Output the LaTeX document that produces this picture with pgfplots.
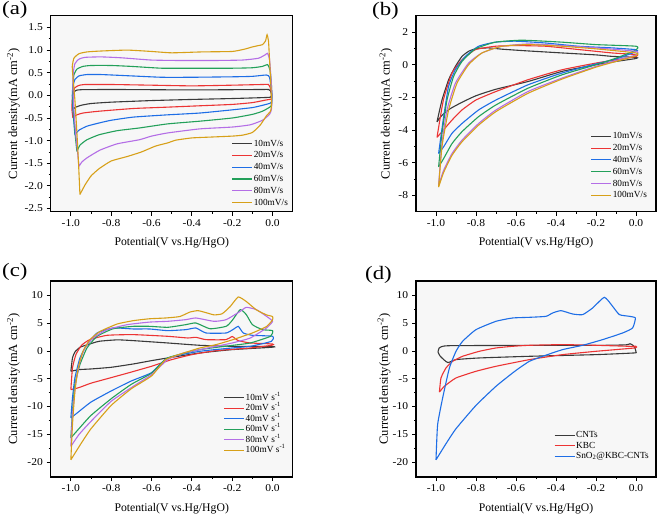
\documentclass[border=0pt]{standalone}
\usepackage{fontspec}
\setmainfont{Liberation Serif}
\usepackage{pgfplots}
\pgfplotsset{compat=1.18}
\definecolor{cA}{RGB}{58,58,58}
\definecolor{cB}{RGB}{236,52,52}
\definecolor{cC}{RGB}{30,110,230}
\definecolor{cD}{RGB}{35,160,90}
\definecolor{cE}{RGB}{180,110,230}
\definecolor{cF}{RGB}{215,160,25}
\newcommand\xlblfont{\fontsize{11.7}{13}\selectfont}
\newcommand\lblfont{\fontsize{12.5}{14}\selectfont}
\pgfplotsset{cv/.style={
  scale only axis, width=242pt, height=196pt,
  axis line style={line width=1.1pt},
  tick align=outside, xtick pos=left, ytick pos=left,
  major tick length=4pt, minor tick length=2pt,
  every tick/.style={line width=0.8pt, black},
  minor x tick num=1, minor y tick num=1,
  xmin=-1.1, xmax=0.1, xtick={-1,-0.8,-0.6,-0.4,-0.2,0},
  xticklabel style={/pgf/number format/.cd, fixed, fixed zerofill, precision=1},
  /pgf/number format/assume math mode=true,
  ticklabel style={font=\fontsize{10.5}{12}\selectfont, xscale=1.1},
  axis background/.style={fill=black!3},
  xlabel={Potential(V vs.Hg/HgO)},
  ylabel={Current density(mA cm\textsuperscript{-2})},
  every axis x label/.style={at={(axis description cs:0.5,-0.16)}, anchor=center, font=\xlblfont},
  every axis plot/.append style={line width=1.1pt, smooth, tension=0.3},
  legend style={draw=none, fill=none, font=\fontsize{9.3}{10}\selectfont, inner sep=0pt,
     nodes={inner sep=1pt, text height=6.5pt, text depth=1.5pt}, row sep=1.8pt},
  legend cell align=left,
  legend image code/.code={\draw[#1, line width=1.1pt] (0pt,0pt) -- (20pt,0pt);},
}}
\begin{document}
\begin{tikzpicture}
\useasboundingbox (0,0) rectangle (661pt,-516pt);
% ---------------- (a)
\begin{axis}[cv, at={(50.7pt,-15.7pt)}, anchor=north west,
  ymin=-2.57, ymax=1.76, ytick={-2.5,-2,-1.5,-1,-0.5,0,0.5,1,1.5},
  yticklabel style={/pgf/number format/.cd, fixed, fixed zerofill, precision=1},
  every axis y label/.style={at={(axis description cs:-0.154,0.5)}, rotate=90, anchor=center, font=\lblfont},
  legend style={at={(axis description cs:0.985,0.02)}, anchor=south east}]
\addplot[cA] coordinates {(-0.99,-0.32) (-0.992,-0.15) (-0.99,0.0) (-0.985,0.07) (-0.975,0.11) (-0.95,0.125) (-0.8,0.13) (-0.6,0.125) (-0.4,0.12) (-0.2,0.125) (-0.05,0.13) (-0.02,0.13) (-0.01,0.1) (-0.005,0.0) (-0.01,-0.04) (-0.05,-0.05) (-0.2,-0.07) (-0.4,-0.09) (-0.6,-0.115) (-0.8,-0.15) (-0.9,-0.18) (-0.95,-0.22) (-0.98,-0.27) (-0.99,-0.32)};
\addlegendentry{10mV/s}
\addplot[cB] coordinates {(-0.99,-0.5) (-0.995,-0.3) (-0.993,-0.1) (-0.99,0.05) (-0.98,0.17) (-0.96,0.22) (-0.93,0.24) (-0.8,0.24) (-0.6,0.225) (-0.4,0.21) (-0.2,0.225) (-0.05,0.24) (-0.02,0.24) (-0.01,0.15) (-0.003,0.0) (-0.005,-0.08) (-0.03,-0.1) (-0.1,-0.16) (-0.2,-0.2) (-0.36,-0.23) (-0.52,-0.26) (-0.69,-0.29) (-0.86,-0.35) (-0.94,-0.39) (-0.975,-0.44) (-0.99,-0.5)};
\addlegendentry{20mV/s}
\addplot[cC] coordinates {(-0.98,-0.87) (-0.985,-0.6) (-0.99,-0.3) (-0.993,0.0) (-0.99,0.2) (-0.98,0.35) (-0.96,0.43) (-0.92,0.46) (-0.85,0.46) (-0.7,0.43) (-0.55,0.4) (-0.4,0.4) (-0.2,0.41) (-0.1,0.42) (-0.03,0.45) (-0.015,0.4) (-0.005,0.1) (-0.003,-0.1) (-0.01,-0.17) (-0.05,-0.22) (-0.1,-0.27) (-0.2,-0.32) (-0.36,-0.39) (-0.52,-0.43) (-0.69,-0.48) (-0.8,-0.55) (-0.86,-0.61) (-0.92,-0.68) (-0.96,-0.77) (-0.98,-0.87)};
\addlegendentry{40mV/s}
\addplot[cD] coordinates {(-0.97,-1.24) (-0.978,-0.9) (-0.985,-0.5) (-0.99,-0.1) (-0.99,0.2) (-0.985,0.45) (-0.97,0.58) (-0.94,0.64) (-0.9,0.66) (-0.8,0.66) (-0.7,0.64) (-0.55,0.6) (-0.4,0.6) (-0.2,0.6) (-0.1,0.61) (-0.05,0.64) (-0.025,0.68) (-0.012,0.55) (-0.005,0.2) (-0.003,-0.1) (-0.008,-0.24) (-0.05,-0.35) (-0.1,-0.42) (-0.2,-0.5) (-0.36,-0.57) (-0.52,-0.63) (-0.66,-0.72) (-0.77,-0.78) (-0.86,-0.87) (-0.92,-0.98) (-0.955,-1.1) (-0.97,-1.24)};
\addlegendentry{60mV/s}
\addplot[cE] coordinates {(-0.96,-1.57) (-0.968,-1.2) (-0.977,-0.8) (-0.985,-0.3) (-0.99,0.2) (-0.988,0.5) (-0.98,0.7) (-0.96,0.8) (-0.93,0.84) (-0.85,0.85) (-0.75,0.83) (-0.6,0.78) (-0.45,0.77) (-0.3,0.77) (-0.15,0.78) (-0.07,0.82) (-0.035,0.9) (-0.025,0.93) (-0.015,0.8) (-0.008,0.4) (-0.003,0.0) (-0.005,-0.3) (-0.015,-0.42) (-0.05,-0.55) (-0.11,-0.65) (-0.2,-0.7) (-0.36,-0.74) (-0.52,-0.83) (-0.6,-0.9) (-0.66,-0.98) (-0.77,-1.07) (-0.856,-1.21) (-0.92,-1.38) (-0.945,-1.47) (-0.96,-1.57)};
\addlegendentry{80mV/s}
\addplot[cF] coordinates {(-0.955,-2.19) (-0.962,-1.5) (-0.97,-0.83) (-0.98,-0.1) (-0.99,0.42) (-0.993,0.64) (-0.985,0.82) (-0.96,0.92) (-0.92,0.96) (-0.85,0.98) (-0.72,1.0) (-0.6,0.97) (-0.5,0.94) (-0.35,0.96) (-0.2,0.97) (-0.14,1.02) (-0.1,1.07) (-0.07,1.1) (-0.05,1.12) (-0.035,1.2) (-0.027,1.34) (-0.02,1.2) (-0.015,0.8) (-0.008,0.2) (-0.005,-0.2) (-0.01,-0.35) (-0.03,-0.45) (-0.06,-0.65) (-0.1,-0.82) (-0.15,-0.88) (-0.2,-0.9) (-0.3,-0.92) (-0.4,-0.94) (-0.48,-0.99) (-0.52,-1.05) (-0.58,-1.12) (-0.65,-1.25) (-0.72,-1.35) (-0.8,-1.45) (-0.86,-1.62) (-0.9,-1.78) (-0.93,-1.98) (-0.955,-2.19)};
\addlegendentry{100mV/s}
\end{axis}
% ---------------- (b)
\begin{axis}[cv, at={(416pt,-15.7pt)}, anchor=north west, width=240pt,
  ymin=-9, ymax=3, ytick={-8,-6,-4,-2,0,2},
  every axis y label/.style={at={(axis description cs:-0.125,0.5)}, rotate=90, anchor=center, font=\lblfont},
  legend style={at={(axis description cs:0.967,0.057)}, anchor=south east}]
\addplot[cA] coordinates {(-0.995,-3.5) (-0.97,-2.16) (-0.937,-0.92) (-0.903,-0.1) (-0.87,0.51) (-0.837,0.82) (-0.803,0.97) (-0.74,1.03) (-0.67,0.95) (-0.55,0.85) (-0.37,0.72) (-0.2,0.6) (-0.12,0.51) (0,0.45) (0,0.38) (-0.1,0.2) (-0.2,0.0) (-0.37,-0.41) (-0.54,-1.03) (-0.7,-1.5) (-0.8,-1.9) (-0.87,-2.3) (-0.93,-2.7) (-0.97,-3.1) (-0.995,-3.5)};
\addlegendentry{10mV/s}
\addplot[cB] coordinates {(-0.995,-4.45) (-0.963,-2.16) (-0.92,-0.51) (-0.87,0.3) (-0.803,0.92) (-0.703,1.13) (-0.6,1.17) (-0.45,1.13) (-0.28,0.92) (-0.12,0.72) (0,0.62) (0,0.5) (-0.1,0.3) (-0.2,0.1) (-0.37,-0.31) (-0.54,-0.92) (-0.7,-1.64) (-0.8,-2.16) (-0.87,-2.77) (-0.92,-3.39) (-0.97,-4.1) (-0.995,-4.45)};
\addlegendentry{20mV/s}
\addplot[cC] coordinates {(-0.987,-5.44) (-0.962,-3.2) (-0.937,-1.33) (-0.903,-0.3) (-0.853,0.51) (-0.787,1.13) (-0.703,1.38) (-0.603,1.44) (-0.453,1.33) (-0.287,1.13) (-0.12,1.03) (0,0.92) (0,0.8) (-0.1,0.35) (-0.2,0.05) (-0.37,-0.51) (-0.54,-1.23) (-0.7,-2.16) (-0.787,-2.77) (-0.87,-3.6) (-0.92,-4.2) (-0.962,-5.03) (-0.987,-5.44)};
\addlegendentry{40mV/s}
\addplot[cD] coordinates {(-0.987,-6.26) (-0.97,-4.2) (-0.945,-2.16) (-0.912,-0.72) (-0.87,0.2) (-0.803,0.97) (-0.703,1.38) (-0.57,1.5) (-0.37,1.38) (-0.2,1.23) (0,1.13) (0,0.9) (-0.1,0.4) (-0.2,0.0) (-0.37,-0.62) (-0.54,-1.44) (-0.7,-2.46) (-0.787,-3.18) (-0.87,-4.1) (-0.92,-4.83) (-0.962,-5.75) (-0.987,-6.26)};
\addlegendentry{60mV/s}
\addplot[cE] coordinates {(-0.987,-7.4) (-0.97,-4.8) (-0.945,-2.77) (-0.903,-1.13) (-0.837,0.1) (-0.77,0.72) (-0.67,1.13) (-0.537,1.27) (-0.37,1.17) (-0.2,1.03) (0,0.82) (0,0.6) (-0.1,0.25) (-0.2,-0.1) (-0.37,-0.82) (-0.54,-1.64) (-0.7,-2.77) (-0.787,-3.6) (-0.87,-4.62) (-0.92,-5.44) (-0.962,-6.47) (-0.987,-7.4)};
\addlegendentry{80mV/s}
\addplot[cF] coordinates {(-0.987,-7.5) (-0.97,-5.0) (-0.937,-2.77) (-0.895,-1.13) (-0.837,0.0) (-0.77,0.72) (-0.67,1.13) (-0.537,1.23) (-0.37,1.13) (-0.2,0.97) (0,0.72) (0,0.55) (-0.1,0.2) (-0.2,-0.15) (-0.37,-0.88) (-0.54,-1.75) (-0.7,-2.87) (-0.787,-3.7) (-0.87,-4.72) (-0.92,-5.55) (-0.962,-6.6) (-0.987,-7.5)};
\addlegendentry{100mV/s}
\end{axis}
% ---------------- (c)
\begin{axis}[cv, at={(50.7pt,-281pt)}, anchor=north west,
  ymin=-22.7, ymax=12.6, ytick={-20,-15,-10,-5,0,5,10},
  every axis y label/.style={at={(axis description cs:-0.154,0.5)}, rotate=90, anchor=center, font=\lblfont},
  legend style={at={(axis description cs:0.975,0.11)}, anchor=south east, row sep=0.5pt}]
\addplot[cA] coordinates {(-1.0,-3.66) (-0.992,-1.26) (-0.98,-0.18) (-0.955,0.66) (-0.92,1.1) (-0.86,1.74) (-0.77,2.0) (-0.69,1.86) (-0.52,1.44) (-0.36,1.02) (-0.2,0.84) (0,0.8) (-0.005,0.66) (-0.2,0.24) (-0.36,-0.36) (-0.52,-1.26) (-0.6,-1.74) (-0.69,-2.34) (-0.8,-2.94) (-0.9,-3.24) (-0.96,-3.36) (-1.0,-3.66)};
\addlegendentry{10mV s\textsuperscript{-1}}
\addplot[cB] coordinates {(-1.0,-6.96) (-0.992,-3.06) (-0.975,-0.66) (-0.947,1.02) (-0.906,2.04) (-0.82,2.82) (-0.69,2.94) (-0.52,2.64) (-0.42,2.34) (-0.38,2.46) (-0.33,2.04) (-0.23,2.04) (-0.2,2.6) (-0.17,1.86) (-0.11,1.44) (0,1.26) (-0.005,1.02) (-0.11,0.54) (-0.28,0.06) (-0.4,-0.66) (-0.5,-1.56) (-0.575,-2.46) (-0.6,-2.76) (-0.7,-3.8) (-0.8,-4.8) (-0.9,-5.8) (-0.96,-6.6) (-1.0,-6.96)};
\addlegendentry{20mV s\textsuperscript{-1}}
\addplot[cC] coordinates {(-1.0,-12.06) (-0.992,-8.46) (-0.98,-4.86) (-0.955,-1.26) (-0.92,1.14) (-0.87,3.24) (-0.79,4.14) (-0.69,3.96) (-0.61,3.96) (-0.52,3.66) (-0.43,3.84) (-0.38,4.14) (-0.33,3.24) (-0.23,3.24) (-0.19,4.0) (-0.17,4.44) (-0.145,3.24) (-0.1,2.82) (0,2.64) (-0.005,1.74) (-0.11,0.84) (-0.2,0.54) (-0.36,-0.06) (-0.52,-1.26) (-0.6,-3.9) (-0.7,-5.4) (-0.8,-7.2) (-0.9,-9.2) (-0.97,-11.2) (-1.0,-12.06)};
\addlegendentry{40mV s\textsuperscript{-1}}
\addplot[cD] coordinates {(-1.0,-15.66) (-0.992,-10.86) (-0.98,-6.06) (-0.955,-2.46) (-0.92,0.54) (-0.87,2.64) (-0.79,4.0) (-0.69,4.44) (-0.61,4.44) (-0.52,4.26) (-0.43,4.74) (-0.38,5.04) (-0.31,4.0) (-0.23,4.44) (-0.2,5.5) (-0.16,7.44) (-0.13,6.54) (-0.1,4.74) (-0.05,3.84) (0,3.66) (-0.01,2.64) (-0.11,1.44) (-0.2,1.0) (-0.36,0.24) (-0.52,-1.26) (-0.6,-4.0) (-0.7,-6.0) (-0.8,-8.6) (-0.9,-11.6) (-0.96,-14.0) (-1.0,-15.66)};
\addlegendentry{60mV s\textsuperscript{-1}}
\addplot[cE] coordinates {(-1.0,-17.2) (-0.992,-11.5) (-0.977,-6.1) (-0.955,-1.9) (-0.93,0.54) (-0.89,2.34) (-0.82,3.84) (-0.72,4.74) (-0.61,5.2) (-0.52,5.34) (-0.43,5.64) (-0.38,5.94) (-0.29,5.34) (-0.23,5.64) (-0.16,7.14) (-0.13,7.86) (-0.08,7.44) (-0.03,6.24) (0,5.34) (-0.03,4.14) (-0.11,2.34) (-0.2,1.44) (-0.36,0.24) (-0.44,-0.36) (-0.52,-1.56) (-0.6,-4.26) (-0.69,-6.36) (-0.8,-9.06) (-0.9,-12.66) (-0.96,-15.06) (-1.0,-17.2)};
\addlegendentry{80mV s\textsuperscript{-1}}
\addplot[cF] coordinates {(-1.0,-19.6) (-0.992,-13.3) (-0.98,-7.3) (-0.964,-3.1) (-0.94,-0.06) (-0.906,2.0) (-0.856,3.5) (-0.77,4.86) (-0.69,5.46) (-0.61,5.8) (-0.53,5.94) (-0.46,6.2) (-0.41,7.0) (-0.37,7.26) (-0.33,6.9) (-0.29,6.5) (-0.25,6.7) (-0.21,8.0) (-0.17,9.72) (-0.13,8.9) (-0.08,7.4) (-0.03,6.5) (0,6.2) (0,5.6) (-0.03,4.4) (-0.1,3.24) (-0.2,2.0) (-0.28,1.14) (-0.36,0.54) (-0.44,-0.36) (-0.53,-1.56) (-0.6,-4.5) (-0.7,-6.8) (-0.8,-9.8) (-0.9,-14.0) (-0.95,-16.7) (-1.0,-19.6)};
\addlegendentry{100mV s\textsuperscript{-1}}
\end{axis}
% ---------------- (d)
\begin{axis}[cv, at={(416pt,-281pt)}, anchor=north west, width=240pt,
  ymin=-22.7, ymax=12.6, ytick={-20,-15,-10,-5,0,5,10},
  every axis y label/.style={at={(axis description cs:-0.133,0.5)}, rotate=90, anchor=center, font=\lblfont},
  legend style={at={(axis description cs:0.975,0.08)}, anchor=south east, row sep=0.5pt}]
\addplot[cA] coordinates {(-0.99,-0.2) (-0.985,0.5) (-0.97,0.8) (-0.93,0.95) (-0.6,1.0) (-0.2,1.0) (-0.05,1.1) (-0.03,1.3) (-0.015,1.0) (-0.005,0.5) (0,-0.2) (-0.01,-0.36) (-0.2,-0.66) (-0.533,-0.96) (-0.783,-1.26) (-0.9,-1.56) (-0.94,-2.1) (-0.96,-1.6) (-0.98,-0.9) (-0.99,-0.2)};
\addlegendentry{CNTs}
\addplot[cB] coordinates {(-0.983,-7.4) (-0.975,-4.86) (-0.95,-3.06) (-0.917,-1.86) (-0.867,-0.96) (-0.783,-0.06) (-0.7,0.54) (-0.617,0.84) (-0.533,1.02) (-0.367,1.14) (-0.2,1.02) (-0.033,0.84) (0,0.84) (-0.008,0.54) (-0.2,-0.06) (-0.367,-0.66) (-0.533,-1.56) (-0.7,-2.76) (-0.8,-3.66) (-0.9,-4.86) (-0.958,-6.36) (-0.983,-7.4)};
\addlegendentry{KBC}
\addplot[cC] coordinates {(-1.0,-19.6) (-0.992,-13.3) (-0.967,-8.5) (-0.933,-3.06) (-0.9,-0.06) (-0.867,1.74) (-0.8,3.84) (-0.7,5.34) (-0.617,5.94) (-0.533,6.06) (-0.45,6.24) (-0.417,6.84) (-0.375,7.26) (-0.317,6.66) (-0.267,6.54) (-0.217,7.74) (-0.158,9.66) (-0.117,8.04) (-0.083,6.54) (-0.033,6.24) (-0.003,5.94) (-0.017,4.14) (-0.067,3.24) (-0.167,2.04) (-0.267,1.02) (-0.367,0.24) (-0.467,-0.96) (-0.533,-1.86) (-0.583,-3.06) (-0.617,-3.96) (-0.7,-6.36) (-0.8,-9.8) (-0.9,-14.0) (-0.95,-16.7) (-1.0,-19.6)};
\addlegendentry{SnO\textsubscript{2}@KBC-CNTs}
\end{axis}
\node[anchor=west, inner sep=0pt, font=\fontsize{19}{22}\selectfont, xscale=1.2] at (2pt,-10pt) {(a)};
\node[anchor=west, inner sep=0pt, font=\fontsize{19}{22}\selectfont, xscale=1.2] at (372pt,-11pt) {(b)};
\node[anchor=west, inner sep=0pt, font=\fontsize{19}{22}\selectfont, xscale=1.2] at (2pt,-272pt) {(c)};
\node[anchor=west, inner sep=0pt, font=\fontsize{19}{22}\selectfont, xscale=1.2] at (365pt,-274.5pt) {(d)};
\end{tikzpicture}
\end{document}
